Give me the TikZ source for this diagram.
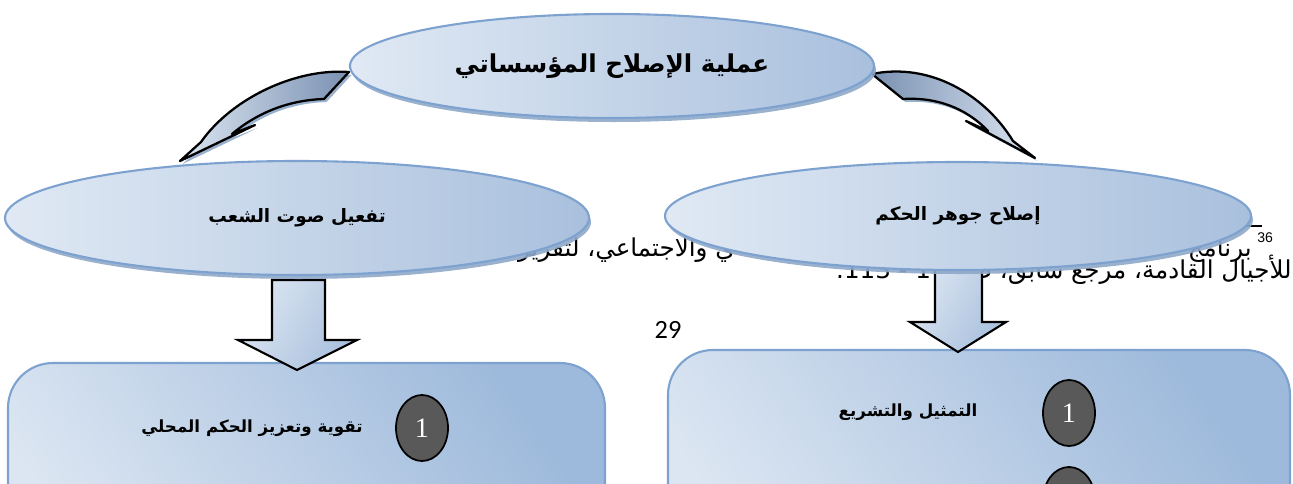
\documentclass[tikz,border=0pt]{standalone}
\usepackage{fontspec}
\setmainfont{Liberation Serif}
\newfontfamily\arabicfont[Script=Arabic]{DejaVu Sans}
\newfontfamily\notefont{Liberation Sans}
\newfontfamily\pagefont{Carlito}
\TeXXeTstate=1
\usetikzlibrary{shapes.geometric,shadows}

\definecolor{ovallite}{HTML}{E0E9F4}
\definecolor{ovaldark}{HTML}{A9C0DD}
\definecolor{ovalline}{HTML}{7EA2CF}
\definecolor{ovalshade}{HTML}{8FA8C9}
\definecolor{panellite}{HTML}{DCE6F2}
\definecolor{paneldark}{HTML}{9DB9DB}
\definecolor{ribbonlite}{HTML}{DCE6F2}
\definecolor{ribbondark}{HTML}{7A91B2}
\definecolor{badgegray}{HTML}{595959}

\tikzset{
  oval/.style={ellipse, inner sep=0pt, draw=ovalline, line width=1.2pt,
    left color=ovallite, right color=ovaldark,
    drop shadow={shadow xshift=0.4mm, shadow yshift=-0.8mm, fill=ovalshade, opacity=0.9}},
  panel/.style={rectangle, rounded corners=9mm, draw=ovalline, line width=1.2pt,
    bottom color=panellite, middle color=panellite, top color=paneldark, shading angle=-55},
  badge/.style={ellipse, draw=black, line width=1pt, fill=badgegray, text=white,
    minimum width=10.4mm, minimum height=13.2mm, inner sep=0pt,
    font=\fontsize{16}{18}\selectfont},
  ribbon/.style={draw=black, line width=1.3pt, line join=round,
    drop shadow={shadow xshift=0.5mm, shadow yshift=-0.6mm, fill=ovalshade, opacity=0.9}},
  blockdown/.style={draw=black, line width=1.2pt, line join=miter,
    left color=panellite, right color=ovaldark, shading angle=60},
  ovaltext/.style={font=\arabicfont\bfseries\fontsize{10.5}{13}\selectfont},
  paneltext/.style={inner sep=0pt, font=\arabicfont\bfseries\fontsize{9.5}{12}\selectfont},
  notetext/.style={inner sep=0pt, font=\arabicfont\fontsize{14}{16}\selectfont}
}

\begin{document}
\begin{tikzpicture}[x=0.2mm, y=-0.2mm]
  \useasboundingbox (0,0) rectangle (1293,484);

  % footnote of the page, behind the chart
  \draw[line width=0.6pt] (1130,226) -- (1262,226);
  \node[notetext, anchor=base east] (fnword) at (1252,256) {\beginR برنامج\endR};
  \node[inner sep=0pt, anchor=base west, font=\notefont\fontsize{8}{9}\selectfont] (fnmark) at (1257,242) {36};
  \node[notetext, anchor=base east] (fnmid) at (735,256) {\beginR ي والاجتماعي، لتقرير\endR};
  \node[notetext, anchor=base east] (fnline) at (1292,278)
    {\beginR للأجيال القادمة، مرجع سابق، ص\beginL 112\endL{} - \beginL 113\endL.\endR};
  \node[inner sep=0pt, font=\pagefont\fontsize{15}{18}\selectfont] (pagenum) at (668,330) {29};

  % lower panels
  \node[panel, minimum width=119.4mm, minimum height=47.4mm] (voicebox) at (306.5,481.5) {};
  \node[panel, minimum width=124.4mm, minimum height=50mm] (corebox) at (979,475) {};
  \node[paneltext] (voiceone) at (252,428) {\beginR تقوية وتعزيز الحكم المحلي\endR};
  \node[paneltext] (coreone) at (908,412) {\beginR التمثيل والتشريع\endR};
  \node[badge] (vnum) at (422,428) {1};
  \node[badge] (cnum) at (1069,413) {1};
  \node[badge] (cnumb) at (1069,500) {};

  % block arrows down
  \draw[blockdown] (272,280) -- (325,280) -- (325,340) -- (357,340) -- (297,370)
    -- (238,340) -- (272,340) -- cycle;
  \draw[blockdown] (935,262) -- (982,262) -- (982,322) -- (1006,322) -- (958,352)
    -- (910,322) -- (935,322) -- cycle;

  % curved arrows
  \draw[ribbon, left color=ribbonlite, right color=ribbondark]
    (349,72) .. controls (296,68) and (232,98) .. (201,142) -- (180,161)
    -- (255,125) -- (232,134) .. controls (258,112) and (290,100) .. (324,99) -- cycle;
  \draw[ribbon, left color=ribbondark, right color=ribbonlite]
    (872,74) .. controls (930,62) and (985,95) .. (1013,141) -- (1035,158)
    -- (966,121) -- (988,131) .. controls (965,107) and (935,97) .. (903,99) -- cycle;

  % ovals
  \node[oval, ovaltext, minimum width=116.8mm, minimum height=22.8mm] (voice) at (297,218)
    {\beginR تفعيل صوت الشعب\endR};
  \node[oval, ovaltext, minimum width=117.2mm, minimum height=21.6mm] (core) at (958,216)
    {\beginR إصلاح جوهر الحكم\endR};
  \node[oval, minimum width=104.8mm, minimum height=20.8mm,
    font=\arabicfont\bfseries\fontsize{14}{17}\selectfont] (reform) at (612,66)
    {\beginR عملية الإصلاح المؤسساتي\endR};
\end{tikzpicture}
\end{document}
